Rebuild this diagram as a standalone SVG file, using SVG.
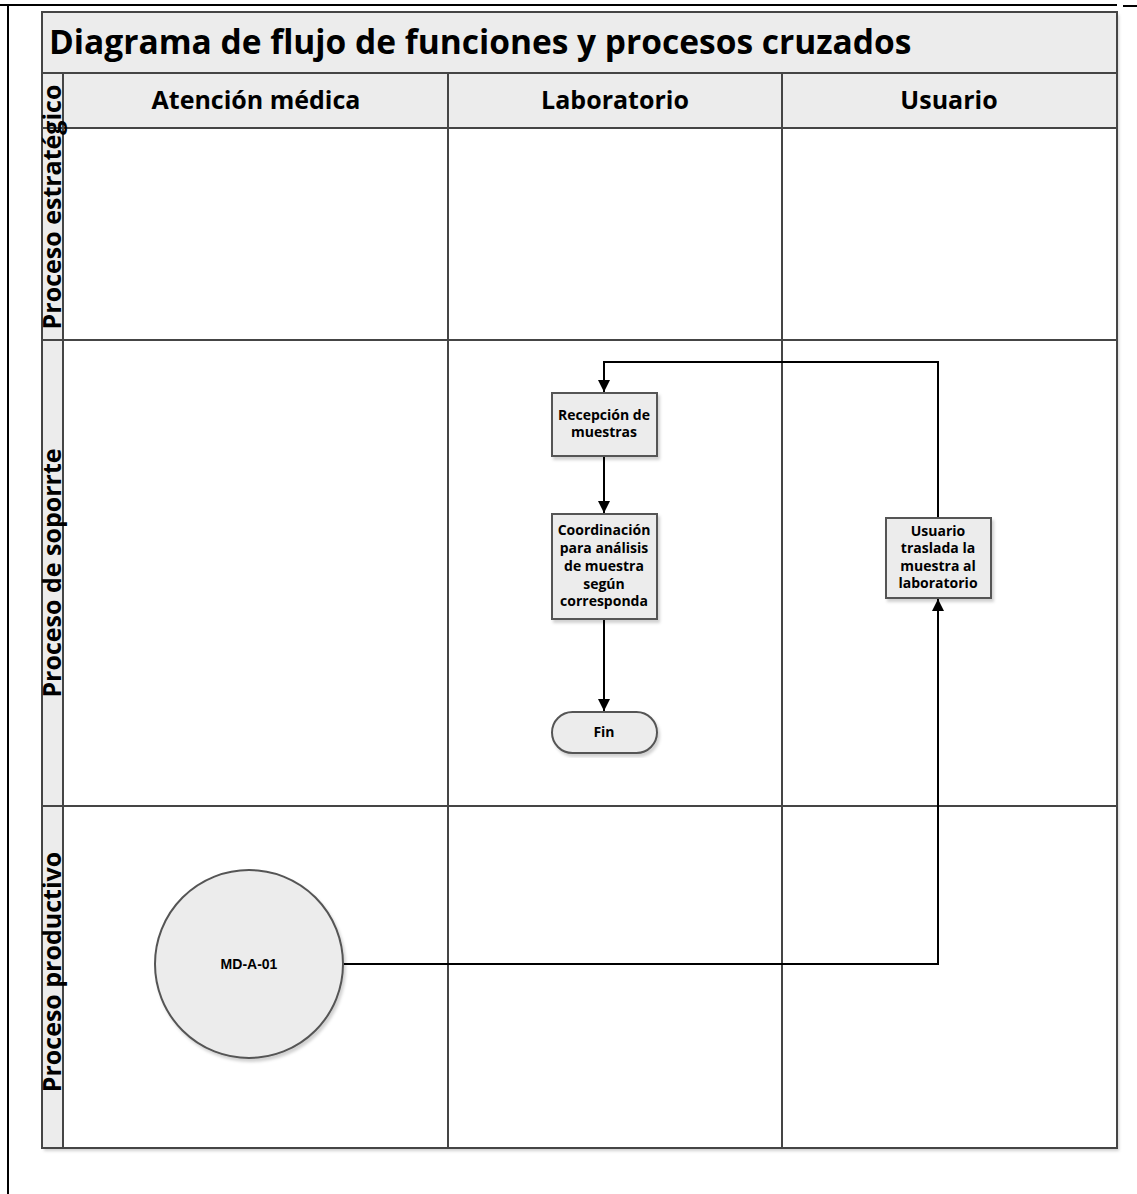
<svg xmlns="http://www.w3.org/2000/svg" width="1137" height="1194" viewBox="0 0 1137 1194">
  <defs>
    <filter id="shadow" x="-5%" y="-5%" width="115%" height="115%">
      <feDropShadow dx="2" dy="3" stdDeviation="1.5" flood-color="#000" flood-opacity="0.18"/>
    </filter>
    <marker id="arr" markerWidth="13" markerHeight="13" refX="12" refY="6.5" orient="auto" markerUnits="userSpaceOnUse">
      <path d="M0,0.5 L12,6.5 L0,12.5 z" fill="#000"/>
    </marker>
  </defs>
  <style>
    .frame { stroke: #000; stroke-width: 2; fill: none; }
    .band { fill: #ececec; stroke: #454545; stroke-width: 2; }
    .cell { fill: #fff; stroke: #454545; stroke-width: 2; }
    .title { font-family: "Open Sans", "Noto Sans", sans-serif; font-weight: bold; font-size: 33.5px; fill: #000; }
    .head { font-family: "Open Sans", "Noto Sans", sans-serif; font-weight: bold; font-size: 25px; fill: #000; text-anchor: middle; }
    .lane { font-family: "Open Sans", "Noto Sans", sans-serif; font-weight: bold; font-size: 25px; fill: #000; text-anchor: middle; }
    .box { fill: #ececec; stroke: #555; stroke-width: 2; filter: url(#shadow); }
    .label { font-family: "Open Sans", "Noto Sans", sans-serif; font-weight: bold; font-size: 14px; fill: #000; text-anchor: middle; }
    .ref { font-family: "Liberation Sans", Arial, sans-serif; font-weight: bold; font-size: 14px; fill: #000; text-anchor: middle; }
    .conn { fill: none; stroke: #000; stroke-width: 2; }
  </style>

  <rect width="1137" height="1194" fill="#fff"/>

  <!-- page frame lines -->
  <g id="page-frame">
    <line class="frame" x1="0" y1="5" x2="1117" y2="5" stroke-width="1.5"/>
    <line class="frame" x1="1123" y1="6" x2="1137" y2="6"/>
    <line class="frame" x1="8" y1="5" x2="8" y2="1194"/>
  </g>

  <!-- swimlane structure -->
  <g id="swimlanes">
    <rect x="42" y="12" width="1075" height="1136" fill="#fff" stroke="none" filter="url(#shadow)"/>
    <rect class="band" x="42" y="12" width="1075" height="61"/>
    <rect class="band" x="42" y="73" width="1075" height="55"/>
    <rect class="band" x="42" y="128" width="21" height="1020"/>
    <rect class="cell" x="63" y="128" width="1054" height="1020"/>
    <line class="cell" x1="42" y1="73" x2="63" y2="73"/>
    <line class="cell" x1="63" y1="73" x2="63" y2="128"/>
    <line class="cell" x1="448" y1="73" x2="448" y2="1148"/>
    <line class="cell" x1="782" y1="73" x2="782" y2="1148"/>
    <line class="cell" x1="42" y1="340" x2="1117" y2="340"/>
    <line class="cell" x1="42" y1="806" x2="1117" y2="806"/>

    <text class="title" x="49" y="54">Diagrama de flujo de funciones y procesos cruzados</text>

    <text class="head" x="256" y="109">Atención médica</text>
    <text class="head" x="615" y="109">Laboratorio</text>
    <text class="head" x="949" y="109">Usuario</text>

    <text class="lane" transform="translate(61,207) rotate(-90)">Proceso estratégico</text>
    <text class="lane" transform="translate(61,573) rotate(-90)">Proceso de soporrte</text>
    <text class="lane" transform="translate(61,972) rotate(-90)">Proceso productivo</text>
  </g>

  <!-- connectors -->
  <g id="connectors">
    <polyline class="conn" points="343,964 938,964 938,599" marker-end="url(#arr)"/>
    <polyline class="conn" points="938,518 938,362 604,362 604,392" marker-end="url(#arr)"/>
    <line class="conn" x1="604" y1="456" x2="604" y2="513" marker-end="url(#arr)"/>
    <line class="conn" x1="604" y1="619" x2="604" y2="711" marker-end="url(#arr)"/>
  </g>

  <!-- nodes -->
  <g id="node-md-a-01">
    <circle class="box" cx="249" cy="964" r="94"/>
    <text class="ref" x="249" y="969">MD-A-01</text>
  </g>

  <g id="node-recepcion">
    <rect class="box" x="552" y="393" width="105" height="63"/>
    <text class="label" x="604" y="420">Recepción de</text>
    <text class="label" x="604" y="437">muestras</text>
  </g>

  <g id="node-coordinacion">
    <rect class="box" x="552" y="514" width="105" height="105"/>
    <text class="label" x="604" y="535">Coordinación</text>
    <text class="label" x="604" y="553">para análisis</text>
    <text class="label" x="604" y="571">de muestra</text>
    <text class="label" x="604" y="589">según</text>
    <text class="label" x="604" y="606">corresponda</text>
  </g>

  <g id="node-fin">
    <rect class="box" x="552" y="712" width="105" height="41" rx="20.5"/>
    <text class="label" x="604" y="737">Fin</text>
  </g>

  <g id="node-usuario-traslada">
    <rect class="box" x="886" y="518" width="105" height="80"/>
    <text class="label" x="938" y="536">Usuario</text>
    <text class="label" x="938" y="553">traslada la</text>
    <text class="label" x="938" y="571">muestra al</text>
    <text class="label" x="938" y="588">laboratorio</text>
  </g>
</svg>
